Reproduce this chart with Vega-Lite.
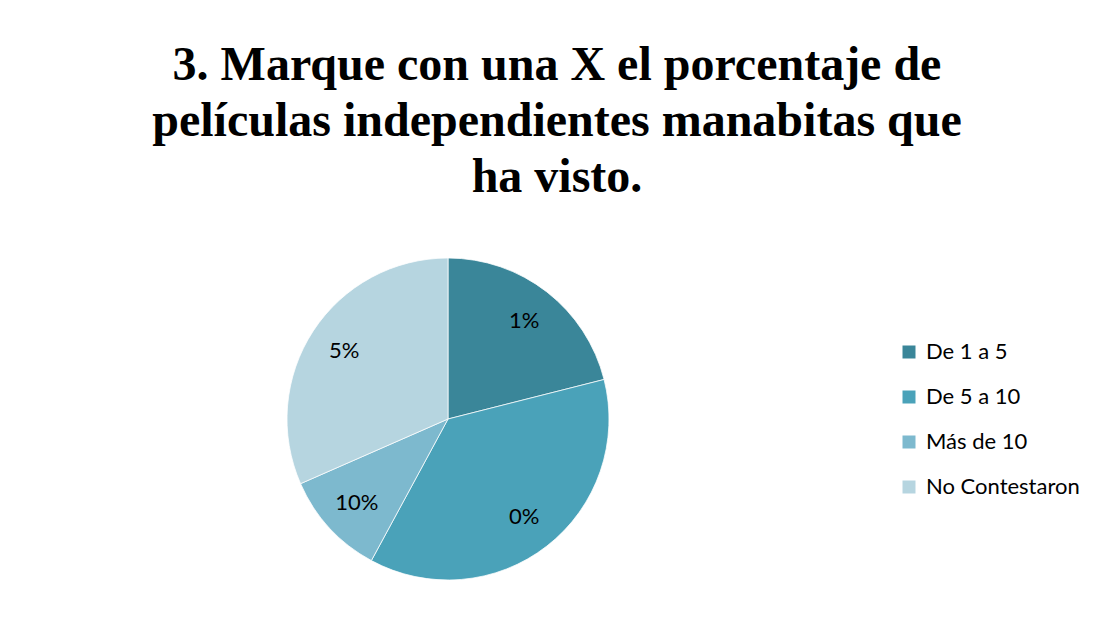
{
  "$schema": "https://vega.github.io/schema/vega-lite/v6.json",
  "autosize": "none",
  "width": 322,
  "height": 322,
  "padding": {"left": 287, "top": 258, "right": 485, "bottom": 47},
  "background": "white",
  "title": {
    "text": ["3. Marque con una X el porcentaje de", "películas independientes manabitas que", "ha visto."],
    "anchor": "middle",
    "frame": "group",
    "dx": 109,
    "offset": 55,
    "font": "Liberation Serif",
    "fontSize": 48,
    "fontWeight": "bold",
    "lineHeight": 56,
    "color": "#000000"
  },
  "data": {
    "values": [
      {"categoria": "De 1 a 5", "valor": 20, "etiqueta": "1%", "orden": 1},
      {"categoria": "De 5 a 10", "valor": 35, "etiqueta": "0%", "orden": 2},
      {"categoria": "Más de 10", "valor": 10, "etiqueta": "10%", "orden": 3},
      {"categoria": "No Contestaron", "valor": 30, "etiqueta": "5%", "orden": 4}
    ]
  },
  "encoding": {
    "theta": {"field": "valor", "type": "quantitative", "stack": true},
    "order": {"field": "orden", "type": "quantitative"}
  },
  "layer": [
    {
      "mark": {"type": "arc", "outerRadius": 161, "stroke": "#ffffff", "strokeWidth": 0.75},
      "encoding": {
        "color": {
          "field": "categoria",
          "type": "nominal",
          "sort": ["De 1 a 5", "De 5 a 10", "Más de 10", "No Contestaron"],
          "scale": {
            "domain": ["De 1 a 5", "De 5 a 10", "Más de 10", "No Contestaron"],
            "range": ["#3a8699", "#4aa2b9", "#7db9ce", "#b6d5e0"]
          },
          "legend": {
            "title": null,
            "orient": "none",
            "legendX": 611,
            "legendY": 83,
            "symbolType": "square",
            "symbolSize": 169,
            "symbolStrokeWidth": 0,
            "labelFont": "Lato",
            "labelFontSize": 22,
            "labelColor": "#000000",
            "labelOffset": 6,
            "rowPadding": 23,
            "labelLimit": 300
          }
        }
      }
    },
    {
      "mark": {"type": "text", "radius": 124, "font": "Lato", "fontSize": 22, "color": "#000000"},
      "encoding": {
        "text": {"field": "etiqueta", "type": "nominal"}
      }
    }
  ],
  "config": {"view": {"stroke": null}}
}
